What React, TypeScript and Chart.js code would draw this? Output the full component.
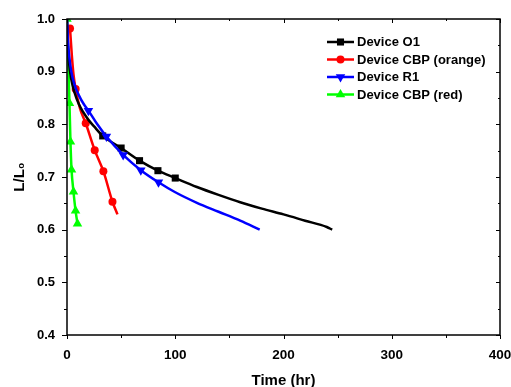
import React, { useEffect, useRef } from "react";
import { Chart, registerables } from "chart.js";

Chart.register(...registerables);

// ---- data ----
const seriesLabels = ["Device O1", "Device CBP (orange)", "Device R1", "Device CBP (red)"];

const o1Hours = [0, 1, 2, 4, 7, 11, 15, 20, 25, 33, 50, 67, 84, 100, 120, 140, 160, 180, 200, 220, 240, 245];
const o1Values = [1.0, 0.945, 0.915, 0.885, 0.86, 0.838, 0.823, 0.808, 0.796, 0.778, 0.755, 0.731, 0.712, 0.698, 0.681, 0.666, 0.652, 0.64, 0.629, 0.617, 0.605, 0.6];
const o1Markers = [9, 10, 11, 12, 13];

const cbpOrangeHours = [2.8, 4.5, 6, 8, 12, 17.3, 25.6, 33.6, 42, 46.6];
const cbpOrangeValues = [0.982, 0.93, 0.895, 0.867, 0.83, 0.802, 0.751, 0.711, 0.653, 0.629];
const cbpOrangeMarkers = [0, 3, 5, 6, 7, 8];

const r1Hours = [0, 1, 2, 4, 7, 11, 15, 19.8, 28, 36.4, 51.9, 68.2, 84.5, 100, 120, 140, 160, 178];
const r1Values = [1.0, 0.955, 0.93, 0.9, 0.875, 0.855, 0.84, 0.826, 0.8, 0.777, 0.742, 0.713, 0.69, 0.671, 0.651, 0.634, 0.617, 0.6];
const r1Markers = [7, 9, 10, 11, 12];

const cbpRedHours = [0, 2.3, 3.2, 4.2, 6, 7.9, 9.7];
const cbpRedValues = [1.0, 0.84, 0.767, 0.714, 0.672, 0.636, 0.611];
const cbpRedMarkers = [0, 1, 2, 3, 4, 5, 6];

const xMin = 0, xMax = 400, xStep = 100;
const yMin = 0.4, yMax = 1.0, yStep = 0.1;

const FONT = "'Liberation Sans', Arial, sans-serif";

type Style = { color: string; pointStyle: string; radius: number; rotation: number };
const styles: Style[] = [
  { color: "#000000", pointStyle: "rect", radius: 5, rotation: 0 },
  { color: "#ff0000", pointStyle: "circle", radius: 4, rotation: 0 },
  { color: "#0000ff", pointStyle: "triangle", radius: 5.5, rotation: 180 },
  { color: "#00ff00", pointStyle: "triangle", radius: 5.5, rotation: 0 },
];

function drawMarker(ctx: CanvasRenderingContext2D, s: Style, x: number, y: number) {
  ctx.beginPath();
  const r = s.radius;
  if (s.pointStyle === "rect") {
    const h = Math.SQRT1_2 * r;
    ctx.rect(x - h, y - h, 2 * h, 2 * h);
  } else if (s.pointStyle === "circle") {
    ctx.arc(x, y, r, 0, Math.PI * 2);
  } else {
    const dir = s.rotation === 180 ? -1 : 1;
    ctx.moveTo(x, y - dir * r);
    ctx.lineTo(x + r * 0.866, y + dir * r * 0.5);
    ctx.lineTo(x - r * 0.866, y + dir * r * 0.5);
    ctx.closePath();
  }
  ctx.fillStyle = s.color;
  ctx.fill();
}

const framePlugin = {
  id: "frame",
  afterDatasetsDraw(chart: any) {
    const { ctx, chartArea: a, scales } = chart;
    const x = scales.x, y = scales.y;
    ctx.save();
    ctx.strokeStyle = "#000";
    ctx.lineWidth = 1.5;
    ctx.strokeRect(a.left, a.top, a.right - a.left, a.bottom - a.top);
    ctx.lineWidth = 1;
    ctx.beginPath();
    const ny = Math.round((yMax - yMin) / (yStep / 2));
    for (let i = 0; i <= ny; i++) {
      const py = Math.round(y.getPixelForValue(yMin + (i * yStep) / 2)) + 0.5;
      const major = i % 2 === 0;
      ctx.moveTo(a.left, py);
      ctx.lineTo(a.left - (major ? 5 : 3), py);
      ctx.moveTo(a.right, py);
      ctx.lineTo(a.right - (major ? 4 : 2), py);
    }
    const nx = Math.round((xMax - xMin) / (xStep / 2));
    for (let i = 0; i <= nx; i++) {
      const px = Math.round(x.getPixelForValue(xMin + (i * xStep) / 2)) + 0.5;
      const major = i % 2 === 0;
      ctx.moveTo(px, a.bottom);
      ctx.lineTo(px, a.bottom + (major ? 4 : 3));
      ctx.moveTo(px, a.top);
      ctx.lineTo(px, a.top + (major ? 4 : 2));
    }
    ctx.stroke();
    ctx.restore();
  },
};

const legendPlugin = {
  id: "innerLegend",
  afterDraw(chart: any) {
    const { ctx } = chart;
    ctx.save();
    chart.data.datasets.forEach((ds: any, i: number) => {
      const s = styles[i];
      const yy = 42 + i * 17.5;
      ctx.strokeStyle = s.color;
      ctx.lineWidth = 2.5;
      ctx.beginPath();
      ctx.moveTo(327, yy);
      ctx.lineTo(354, yy);
      ctx.stroke();
      drawMarker(ctx, s, 340.5, yy);
      ctx.fillStyle = "#000";
      ctx.font = `bold 13px ${FONT}`;
      ctx.textBaseline = "middle";
      ctx.textAlign = "left";
      ctx.fillText(ds.label, 357, yy + 0.5);
    });
    ctx.restore();
  },
};

function makeDataset(label: string, hours: number[], values: number[], markers: number[], s: Style, order: number) {
  return {
    label,
    data: hours.map((h, i) => ({ x: h, y: values[i] })),
    borderColor: s.color,
    backgroundColor: s.color,
    borderWidth: 2.5,
    pointStyle: s.pointStyle,
    pointRotation: s.rotation,
    pointRadius: hours.map((_, i) => (markers.includes(i) ? s.radius : 0)),
    pointBorderWidth: 0,
    cubicInterpolationMode: "monotone",
    order,
  };
}

export default function App() {
  const ref = useRef<HTMLCanvasElement>(null);
  useEffect(() => {
    document.body.style.margin = "0";
    const chart = new Chart(ref.current as HTMLCanvasElement, {
      type: "line",
      data: {
        datasets: [
          makeDataset(seriesLabels[0], o1Hours, o1Values, o1Markers, styles[0], 1),
          makeDataset(seriesLabels[1], cbpOrangeHours, cbpOrangeValues, cbpOrangeMarkers, styles[1], 2),
          makeDataset(seriesLabels[2], r1Hours, r1Values, r1Markers, styles[2], 0),
          makeDataset(seriesLabels[3], cbpRedHours, cbpRedValues, cbpRedMarkers, styles[3], 3),
        ] as any,
      },
      options: {
        animation: false,
        responsive: true,
        maintainAspectRatio: false,
        layout: { padding: { top: 19, right: 11, left: 0, bottom: 0 } },
        plugins: { legend: { display: false }, tooltip: { enabled: false } },
        scales: {
          x: {
            type: "linear",
            min: xMin,
            max: xMax,
            afterFit: (s: any) => {
              s.height = 52;
              s.paddingLeft = 0;
              s.paddingRight = 0;
            },
            grid: { display: true, drawOnChartArea: false, drawTicks: true, tickLength: 4, tickColor: "rgba(0,0,0,0)" },
            border: { display: false },
            ticks: {
              stepSize: xStep,
              padding: 8,
              color: "#000",
              maxRotation: 0,
              font: { family: FONT, size: 13.5, weight: "bold" },
              callback: (v: any) => String(v),
            },
            title: {
              display: true,
              text: "Time (hr)",
              color: "#000",
              font: { family: FONT, size: 15, weight: "bold", lineHeight: 0.8 },
              padding: 0,
            },
          },
          y: {
            type: "linear",
            min: yMin,
            max: yMax,
            afterFit: (s: any) => {
              s.width = 67;
              s.paddingTop = 0;
              s.paddingBottom = 0;
            },
            grid: { display: true, drawOnChartArea: false, drawTicks: true, tickLength: 5, tickColor: "rgba(0,0,0,0)" },
            border: { display: false },
            ticks: {
              stepSize: yStep,
              padding: 7,
              color: "#000",
              font: { family: FONT, size: 13, weight: "bold" },
              callback: (v: any) => Number(v).toFixed(1),
            },
            title: {
              display: true,
              text: "L/L₀",
              color: "#000",
              font: { family: FONT, size: 15, weight: "bold", lineHeight: 1.2 },
              padding: { top: 11, bottom: 0 },
            },
          },
        },
      } as any,
      plugins: [framePlugin, legendPlugin],
    });
    return () => chart.destroy();
  }, []);
  return (
    <div style={{ width: 511, height: 387, position: "relative" }}>
      <canvas ref={ref} />
    </div>
  );
}
